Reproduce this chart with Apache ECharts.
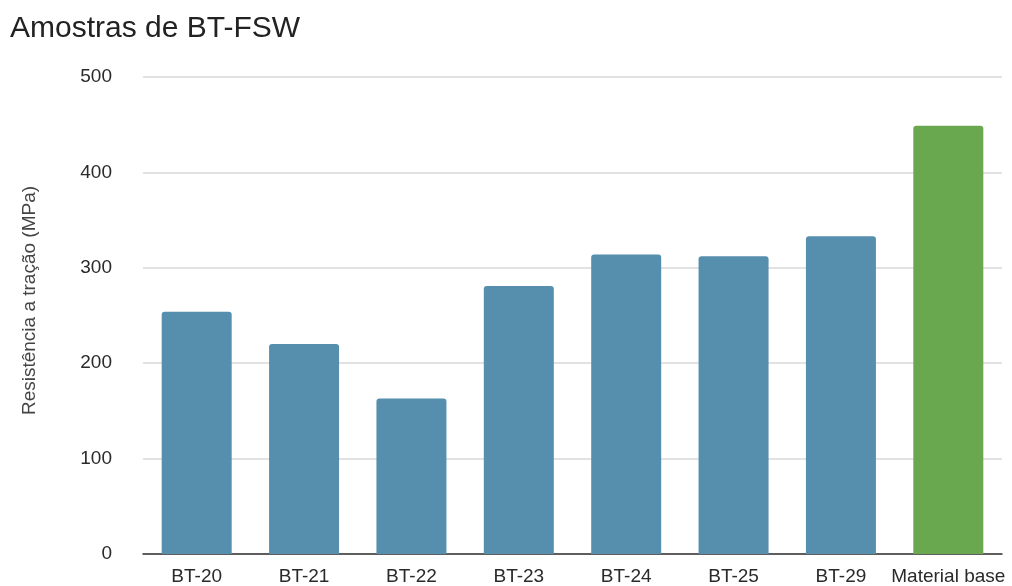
<!DOCTYPE html>
<html>
<head>
    <meta charset="utf-8">
    <title>Amostras de BT-FSW</title>
    <script src="https://cdn.jsdelivr.net/npm/echarts@6/dist/echarts.min.js"></script>
    <style>
        html, body { margin: 0; padding: 0; background: #fff; }
    </style>
</head>
<body>

<div id="main" style="width: 1012px;height:586px;"></div>

<script type="text/javascript">

    var amostras = ['BT-20', 'BT-21', 'BT-22', 'BT-23', 'BT-24', 'BT-25', 'BT-29', 'Material base'];
    var resistencia = [254, 220, 163, 281, 314, 312, 333, 449];
    var cores = ['#568fae', '#568fae', '#568fae', '#568fae', '#568fae', '#568fae', '#568fae', '#6aa84f'];

    var myChart = echarts.init(document.getElementById('main'));

    myChart.setOption({
        animation: false,
        title: {
            text: 'Amostras de BT-FSW',
            left: 5,
            top: 9,
            textStyle: {
                fontFamily: 'Liberation Sans',
                fontSize: 30,
                fontWeight: 'normal',
                color: '#222'
            }
        },
        grid: {
            left: 143,
            right: 10,
            top: 77,
            bottom: 32
        },
        xAxis: {
            type: 'category',
            data: amostras,
            axisTick: { show: false },
            axisLine: { lineStyle: { color: '#333', width: 1.5 } },
            axisLabel: {
                interval: 0,
                margin: 13,
                fontFamily: 'Liberation Sans',
                fontSize: 19,
                color: '#2a2a2a'
            }
        },
        yAxis: {
            type: 'value',
            min: 0,
            max: 500,
            interval: 100,
            name: 'Resistência a tração (MPa)',
            nameLocation: 'middle',
            nameGap: 104,
            nameTextStyle: {
                fontFamily: 'Liberation Sans',
                fontSize: 19,
                color: '#444',
                padding: [0, 0, 0, 30]
            },
            axisLabel: {
                margin: 31,
                fontFamily: 'Liberation Sans',
                fontSize: 19,
                color: '#2a2a2a'
            },
            splitLine: { lineStyle: { color: '#d9d9d9', width: 1.5 } }
        },
        series: [{
            type: 'bar',
            data: resistencia.map(function (v, i) {
                return { value: v, itemStyle: { color: cores[i] } };
            }),
            barWidth: 70,
            itemStyle: { borderRadius: [3, 3, 0, 0] }
        }]
    });

</script>
</body>
</html>
